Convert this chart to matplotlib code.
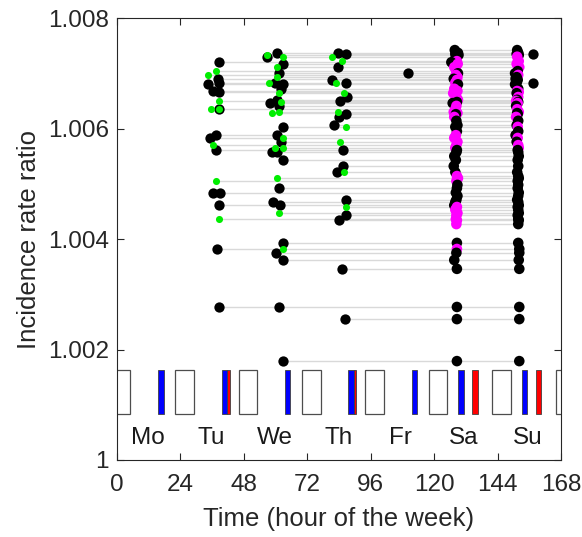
import numpy as np
import matplotlib
matplotlib.use("Agg")
import matplotlib.pyplot as plt
from matplotlib.patches import Rectangle

plt.rcParams['font.family'] = ['Liberation Sans', 'DejaVu Sans']

# rows (incidence rate ratio) that carry a point on Saturday and Sunday
row_irr = [1.00742, 1.00737, 1.00735, 1.00733, 1.00730, 1.00722, 1.00720, 1.00717, 1.00711, 1.00704,
           1.00700, 1.00697, 1.00693, 1.00690, 1.00688, 1.00683, 1.00680, 1.00672, 1.00668, 1.00666,
           1.00664, 1.00657, 1.00652, 1.00650, 1.00648, 1.00646, 1.00641, 1.00635, 1.00630, 1.00628,
           1.00626, 1.00621, 1.00614, 1.00606, 1.00603, 1.00595, 1.00588, 1.00583, 1.00576, 1.00570,
           1.00565, 1.00561, 1.00557, 1.00550, 1.00543, 1.00532, 1.00521, 1.00514, 1.00510, 1.00505,
           1.00498, 1.00492, 1.00484, 1.00478, 1.00471, 1.00467, 1.00461, 1.00458, 1.00453, 1.00447,
           1.00443, 1.00436, 1.00434, 1.00427, 1.00393, 1.00382, 1.00375, 1.00362, 1.00346, 1.00277,
           1.00255, 1.00179]

sa_hour = [127.8, 129.0, 128.0, 129.2, 128.2, 128.6, 126.5, 128.9, 127.6, 128.4,
           129.0, 128.2, 128.8, 127.4, 128.6, 128.0, 129.0, 127.6, 128.8, 128.2,
           127.2, 128.4, 129.0, 127.8, 128.6, 127.0, 128.4, 128.0, 127.4, 128.8,
           128.2, 127.6, 128.4, 128.8, 128.0, 128.6, 128.2, 127.6, 128.8, 128.4,
           128.0, 128.6, 128.4, 127.6, 128.2, 127.4, 128.0, 128.6, 129.0, 128.4,
           128.8, 128.6, 128.2, 128.8, 128.4, 128.0, 127.6, 128.6, 128.0, 128.8,
           128.4, 128.2, 128.6, 128.4, 128.6, 128.6, 128.4, 127.6, 128.6, 128.6,
           128.6, 128.6]
sa_pink = [0, 0, 0, 0, 0, 1, 0, 1, 1, 1,
           0, 1, 1, 0, 1, 1, 0, 1, 1, 1,
           1, 1, 1, 1, 0, 0, 1, 1, 1, 1,
           0, 1, 0, 0, 0, 0, 1, 1, 1, 1,
           1, 0, 0, 0, 0, 0, 0, 1, 1, 1,
           0, 0, 0, 0, 0, 0, 0, 1, 1, 1,
           1, 1, 1, 1, 0, 1, 0, 0, 0, 0,
           0, 0]

su_hour = [151.4, 151.8, 151.2, 152.0, 151.4, 152.0, 151.6, 151.2, 152.2, 151.6,
           150.6, 151.8, 151.2, 150.8, 151.6, 151.2, 150.6, 151.8, 151.4, 152.0,
           151.2, 151.8, 151.4, 151.0, 151.8, 151.6, 151.0, 151.4, 152.0, 151.4,
           151.6, 151.0, 151.8, 151.2, 151.6, 151.8, 150.8, 151.6, 151.2, 151.8,
           152.0, 151.6, 151.8, 152.0, 151.6, 151.8, 151.4, 151.8, 152.0, 151.6,
           151.8, 151.6, 152.0, 151.8, 151.4, 151.8, 152.0, 151.6, 151.8, 152.0,
           151.6, 151.8, 152.0, 151.8, 151.8, 152.2, 152.2, 152.0, 152.2, 152.2,
           152.2, 152.2]
su_pink = [0, 0, 0, 0, 1, 1, 1, 1, 1, 0,
           0, 1, 0, 0, 0, 0, 0, 0, 1, 1,
           0, 1, 0, 1, 0, 1, 0, 1, 1, 0,
           0, 1, 0, 0, 1, 0, 0, 1, 0, 1,
           1, 0, 0, 0, 0, 0, 0, 0, 0, 0,
           0, 0, 0, 0, 0, 0, 0, 0, 0, 0,
           0, 0, 0, 0, 0, 0, 0, 0, 0, 0,
           0, 0]

# weekday points: hour, irr, green flag
tu_hour = [38.6, 37.5, 34.4, 38.2, 38.6, 34.4, 36.3, 38.6, 38.6, 35.6, 38.6, 38.6,
           37.5, 35.2, 36.3, 37.5, 37.5, 36.3, 39.0, 38.6, 38.6, 37.8, 38.6]
tu_irr = [1.00720, 1.00704, 1.00697, 1.00690, 1.00683, 1.00680, 1.00668, 1.00666, 1.00650, 1.00635, 1.00635, 1.00635,
          1.00588, 1.00583, 1.00570, 1.00561, 1.00505, 1.00484, 1.00484, 1.00461, 1.00436, 1.00382, 1.00277]
tu_green = [0, 1, 1, 0, 0, 0, 0, 0, 1, 1, 0, 1,
            0, 0, 1, 0, 1, 0, 0, 0, 1, 0, 0]

we_hour = [60.5, 56.8, 56.8, 62.8, 62.8, 60.5, 61.3, 60.5, 57.5, 59.8, 62.8, 62.0, 61.3,
           60.5, 62.0, 57.9, 61.3, 61.3, 58.6, 62.8, 60.5, 62.8, 62.0, 59.8, 62.8, 58.6,
           60.5, 62.8, 60.5, 61.3, 59.1, 61.6, 61.3, 62.8, 62.8, 60.2, 62.8, 61.4, 62.8]
we_irr = [1.00737, 1.00733, 1.00730, 1.00730, 1.00717, 1.00711, 1.00700, 1.00693, 1.00683, 1.00683, 1.00680, 1.00672, 1.00664,
          1.00652, 1.00648, 1.00646, 1.00641, 1.00630, 1.00628, 1.00603, 1.00588, 1.00583, 1.00576, 1.00565, 1.00565, 1.00557,
          1.00557, 1.00543, 1.00510, 1.00492, 1.00467, 1.00461, 1.00447, 1.00393, 1.00382, 1.00375, 1.00362, 1.00277, 1.00179]
we_green = [0, 1, 0, 1, 0, 1, 0, 1, 1, 0, 0, 0, 1,
            0, 1, 0, 0, 1, 1, 0, 0, 1, 0, 1, 1, 0,
            0, 0, 1, 0, 0, 0, 1, 0, 1, 0, 0, 0, 0]

th_hour = [83.5, 86.5, 81.2, 85.0, 83.7, 81.2, 82.8, 86.5, 86.0, 86.9, 84.4, 83.5, 86.5, 84.0,
           82.2, 86.5, 84.4, 85.6, 85.6, 83.1, 86.0, 86.5, 86.5, 86.5, 84.0, 85.3, 86.4]
th_irr = [1.00737, 1.00735, 1.00730, 1.00722, 1.00711, 1.00688, 1.00683, 1.00683, 1.00664, 1.00657, 1.00650, 1.00630, 1.00626, 1.00621,
          1.00606, 1.00603, 1.00576, 1.00561, 1.00532, 1.00521, 1.00521, 1.00471, 1.00458, 1.00443, 1.00434, 1.00346, 1.00255]
th_green = [0, 0, 1, 1, 0, 0, 1, 0, 1, 0, 0, 1, 0, 0,
            0, 1, 1, 0, 0, 0, 1, 0, 1, 0, 0, 0, 0]

fr_hour = [110.1]
fr_irr = [1.00700]

su_extra_hour = [157.3, 157.3]
su_extra_irr = [1.00735, 1.00683]

# bottom bars: night blocks, blue and red periods
night_start = [-2, 22, 46, 70, 94, 118, 142, 166]
night_len = 7
blue_start = [15.6, 39.6, 63.5, 87.5, 111.5, 129.2, 153.3]
blue_len = [2.0, 2.0, 2.0, 2.0, 2.0, 2.0, 2.0]
red_start = [41.5, 89.6, 134.4, 158.4]
red_len = [1.1, 1.0, 2.0, 2.0]
days = ["Mo", "Tu", "We", "Th", "Fr", "Sa", "Su"]
day_pos = [11.6, 35.8, 59.6, 83.7, 107.4, 131.0, 155.3]

FS = 17.5
TXT = (0.15, 0.15, 0.15)

fig = plt.figure(figsize=(5.82, 5.37), dpi=100)
ax = fig.add_axes([0.201, 0.1434, 0.763, 0.823])

# collect all points for the connecting lines
all_h = tu_hour + we_hour + th_hour + fr_hour + sa_hour + su_hour + su_extra_hour
all_y = tu_irr + we_irr + th_irr + fr_irr + row_irr + row_irr + su_extra_irr
spans = {}
for h, y in zip(all_h, all_y):
    k = round(y, 6)
    lo, hi = spans.get(k, (h, h))
    spans[k] = (min(lo, h), max(hi, h))
for y, (lo, hi) in spans.items():
    ax.plot([lo, hi], [y, y], color=(0.85, 0.85, 0.85), lw=1.0, zorder=1)

# bottom blocks
y0, bh = 1.00083, 0.0008
for s in night_start:
    ax.add_patch(Rectangle((s, y0), night_len, bh, facecolor="white",
                           edgecolor=(0.3, 0.3, 0.3), lw=0.9, zorder=2))
for s, w in zip(red_start, red_len):
    ax.add_patch(Rectangle((s, y0), w, bh, facecolor="red",
                           edgecolor=(0.25, 0.25, 0.25), lw=0.6, zorder=2))
for s, w in zip(blue_start, blue_len):
    ax.add_patch(Rectangle((s, y0), w, bh, facecolor="blue",
                           edgecolor=(0.25, 0.25, 0.25), lw=0.6, zorder=3))
for d, p in zip(days, day_pos):
    ax.text(p, 1.0004, d, ha="center", va="center", fontsize=FS, color=(0.1, 0.1, 0.1))

black_s, green_s, pink_s = 55, 26, 58

def plot_day(hours, irr, green):
    hours, irr, green = np.array(hours), np.array(irr), np.array(green, bool)
    ax.scatter(hours[~green], irr[~green], s=black_s, c="black", lw=0, zorder=4)
    ax.scatter(hours[green], irr[green], s=green_s, c="#00ee00", lw=0, zorder=5)

plot_day(tu_hour, tu_irr, tu_green)
plot_day(we_hour, we_irr, we_green)
plot_day(th_hour, th_irr, th_green)
ax.scatter(fr_hour, fr_irr, s=black_s, c="black", lw=0, zorder=4)
ax.scatter(su_extra_hour, su_extra_irr, s=black_s, c="black", lw=0, zorder=4)

# weekend stacks drawn row by row so colours overlap as in the figure
sa_cols = ["#ff00ff" if p else "black" for p in sa_pink]
su_cols = ["#ff00ff" if p else "black" for p in su_pink]
ax.scatter(sa_hour, row_irr, s=pink_s, c=sa_cols, lw=0, zorder=4)
ax.scatter(su_hour, row_irr, s=pink_s, c=su_cols, lw=0, zorder=4)

ax.set_xlim(0, 168)
ax.set_ylim(1.0, 1.008)
ax.set_xticks(range(0, 169, 24))
ax.set_yticks([1.0, 1.002, 1.004, 1.006, 1.008])
ax.set_yticklabels(["1", "1.002", "1.004", "1.006", "1.008"])
ax.tick_params(direction="in", length=5, width=0.8, top=True, right=True,
               labelsize=FS, colors=TXT)
ax.tick_params(axis="x", pad=10)
ax.tick_params(axis="y", pad=6)
for sp in ax.spines.values():
    sp.set_color(TXT)
    sp.set_linewidth(0.8)
ax.set_xlabel("Time (hour of the week)", fontsize=18.5, color=TXT, labelpad=8)
ax.set_ylabel("Incidence rate ratio", fontsize=18.5, color=TXT, labelpad=5)

fig.savefig("out.png", dpi=100)
